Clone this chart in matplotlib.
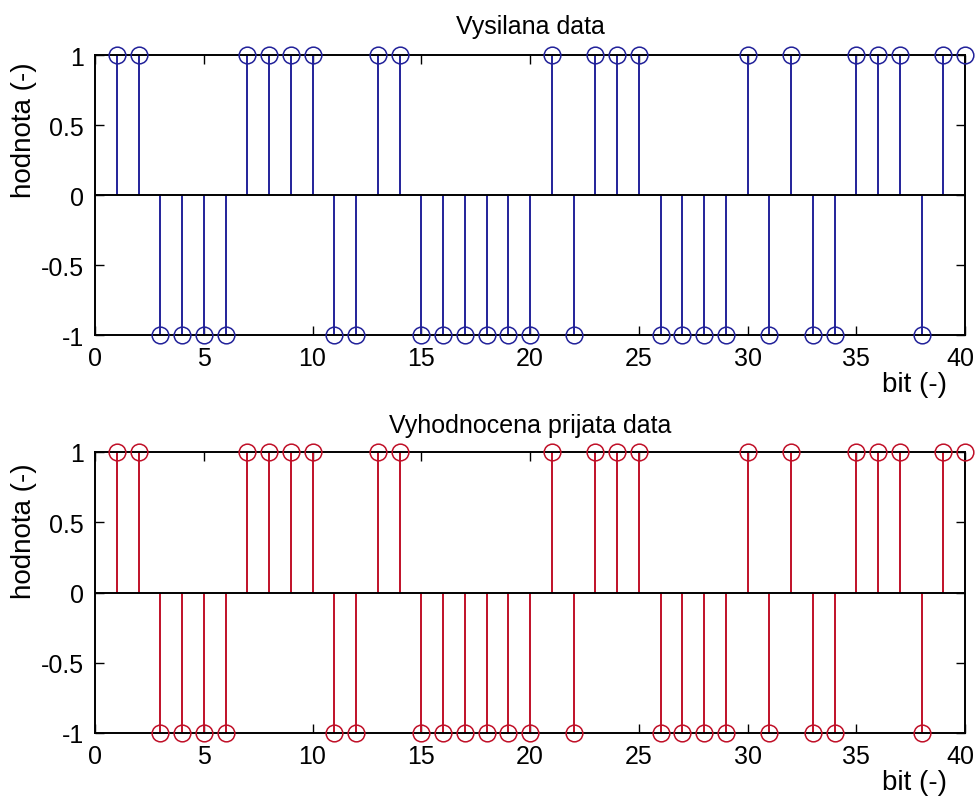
import numpy as np
import matplotlib
matplotlib.use("Agg")
import matplotlib.pyplot as plt
from matplotlib.ticker import FixedLocator, FuncFormatter
from matplotlib.transforms import ScaledTranslation

plt.rcParams['font.family'] = ['Liberation Sans', 'DejaVu Sans']
plt.rcParams['axes.unicode_minus'] = False

# Bit index and bipolar symbol values
bits = list(range(1, 41))
sent = [1, 1, -1, -1, -1, -1, 1, 1, 1, 1,
        -1, -1, 1, 1, -1, -1, -1, -1, -1, -1,
        1, -1, 1, 1, 1, -1, -1, -1, -1, 1,
        -1, 1, -1, -1, 1, 1, 1, -1, 1, 1]
received = [1, 1, -1, -1, -1, -1, 1, 1, 1, 1,
            -1, -1, 1, 1, -1, -1, -1, -1, -1, -1,
            1, -1, 1, 1, 1, -1, -1, -1, -1, 1,
            -1, 1, -1, -1, 1, 1, 1, -1, 1, 1]

x_ticks = [0, 5, 10, 15, 20, 25, 30, 35, 40]
y_ticks = [-1, -0.5, 0, 0.5, 1]
titles = ["Vysilana data", "Vyhodnocena prijata data"]
xlabel = "bit (-)"
ylabel = "hodnota (-)"

W, H = 977, 803
fig = plt.figure(figsize=(W / 100, H / 100), dpi=100)
fig.patch.set_facecolor('white')


def fmt(v, pos):
    return f"{v:g}"


def draw(rect, data, color, title, title_y, ylab_y):
    ax = fig.add_axes(rect)
    ml, sl, bl = ax.stem(bits, data, linefmt='-', markerfmt='o', basefmt=' ')
    plt.setp(sl, color=color, linewidth=1.4)
    plt.setp(ml, markerfacecolor='none', markeredgecolor=color,
             markersize=12, markeredgewidth=1.1, clip_on=False, zorder=4)
    ax.axhline(0, color='black', linewidth=1.4, zorder=3)
    ax.set_xlim(0, 40)
    ax.set_ylim(-1, 1)
    ax.xaxis.set_major_locator(FixedLocator(x_ticks))
    ax.yaxis.set_major_locator(FixedLocator(y_ticks))
    ax.xaxis.set_major_formatter(FuncFormatter(fmt))
    ax.yaxis.set_major_formatter(FuncFormatter(fmt))
    ax.tick_params(direction='in', top=True, right=True, length=6.5,
                   width=1.0, labelsize=18, pad=8)
    for s in ax.spines.values():
        s.set_linewidth(1.4)
        s.set_zorder(3)
    # keep the last x tick label inside the figure edge
    last = ax.xaxis.get_major_ticks()[-1].label1
    last.set_transform(last.get_transform()
                       + ScaledTranslation(-3 / 72, 0, fig.dpi_scale_trans))
    ax.set_title(title, fontsize=18, y=title_y, va='center', pad=0)
    ax.set_xlabel(xlabel, fontsize=20, ha='center', va='center')
    ax.xaxis.set_label_coords(0.9425, -0.175)
    ax.set_ylabel(ylabel, fontsize=20, ha='center', va='center')
    ax.yaxis.set_label_coords(-0.0816, ylab_y)
    return ax


left = 95 / W
width = 870 / W
draw([left, (H - 336) / H, width, 280 / H], sent, '#22229a', titles[0], 1.104, 0.736)
draw([left, (H - 734) / H, width, 281 / H], received, '#c01028', titles[1], 1.096, 0.722)

fig.savefig("out.png", dpi=100, facecolor='white')
